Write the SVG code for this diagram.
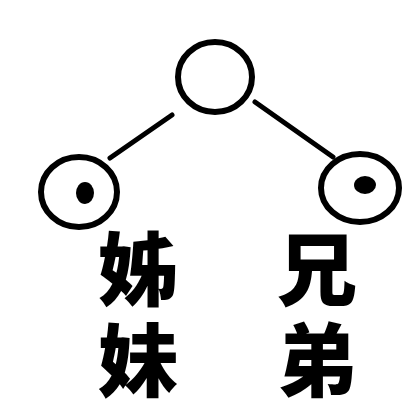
<svg xmlns="http://www.w3.org/2000/svg" width="420" height="412" viewBox="0 0 420 412">
<style>
.ring{fill:none;stroke:#000;stroke-width:6}
.dot{fill:#000}
.edge{stroke:#000;stroke-width:5;stroke-linecap:round;fill:none}
.lbl{font-family:"Noto Sans CJK SC","Noto Sans CJK TC",sans-serif;font-weight:900;font-size:80px;fill:#000;writing-mode:vertical-rl;letter-spacing:11px}
</style>
<rect width="420" height="412" fill="#fff"/>
<g id="connectors">
<line class="edge" x1="172" y1="115" x2="110" y2="158"/>
<line class="edge" x1="255" y1="102" x2="333" y2="157"/>
</g>
<g id="parent">
<ellipse class="ring" cx="215" cy="77" rx="37" ry="35"/>
</g>
<g id="sisters">
<ellipse class="ring" cx="79" cy="192" rx="38" ry="35"/>
<ellipse class="dot" cx="85" cy="193" rx="9" ry="11"/>
<text class="lbl" x="138" y="229">姊妹</text>
</g>
<g id="brothers">
<ellipse class="ring" cx="360" cy="188" rx="39" ry="34"/>
<ellipse class="dot" cx="365" cy="185" rx="11" ry="9"/>
<text class="lbl" x="317" y="229">兄弟</text>
</g>
</svg>
